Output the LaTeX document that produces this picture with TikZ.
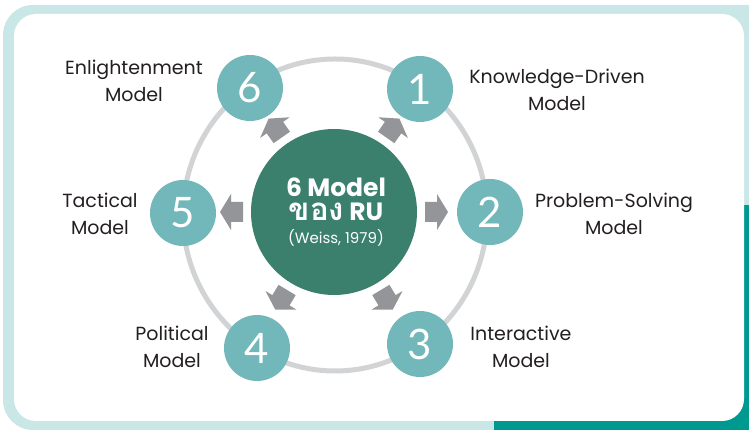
\documentclass[tikz,border=0pt]{standalone}
\usepackage{fontspec}
\setmainfont{Poppins}
\newfontfamily\thaifont[Script=Thai,Scale=1.25]{Loma}
\newfontfamily\numfont{Lato}
\definecolor{framelight}{HTML}{C9E7E6}
\definecolor{frameteal}{HTML}{00998F}
\definecolor{ringgray}{HTML}{D1D3D4}
\definecolor{circteal}{HTML}{72B7BA}
\definecolor{centgreen}{HTML}{3B806C}
\definecolor{arrowgray}{HTML}{939598}
\definecolor{textgray}{HTML}{231F20}
\begin{document}
\begin{tikzpicture}[x=1pt,y=1pt,
    numcircle/.style={circle,fill=circteal,minimum size=66pt,inner sep=0pt,
        text=white,font=\numfont\fontsize{42}{42}\selectfont},
    modeltext/.style={align=center,text=textgray,font=\fontsize{19}{27}\selectfont},
    centtext/.style={anchor=base,text=white,inner sep=0pt},
    garrow/.style={fill=arrowgray}]
\useasboundingbox (0,0) rectangle (749,430);
% frame
\fill[framelight,rounded corners=30pt] (3,0) rectangle (780,425);
\begin{scope}
\clip[rounded corners=30pt] (3,0) rectangle (780,425);
\fill[frameteal] (494,-10) rectangle (780,225);
\end{scope}
\fill[white,rounded corners=22pt] (14,9) rectangle (744,416);
% ring
\draw[ringgray,line width=5pt] (335,215) ellipse [x radius=152,y radius=156];
% centre
\node[circle,fill=centgreen,minimum size=166pt,inner sep=0pt] (m) at (334,218) {};
\node[centtext,font=\fontsize{25}{25}\selectfont\bfseries] (t1) at (336,233.5) {6 Model};
\node[centtext,font=\fontsize{25}{25}\selectfont\bfseries] (t2) at (336,209.5) {{\thaifont ของ} RU};
\node[centtext,font=\fontsize{15}{15}\selectfont] (t3) at (336,186) {(Weiss, 1979)};
% arrows
\begin{scope}[shift={(334,218)}]
\foreach \a in {0,55,125,180,239,301}
    \fill[garrow,shift={(\a:102)},rotate=\a] (-11,-10) -- (1,-10) -- (1,-18) -- (12,0)
        -- (1,18) -- (1,10) -- (-11,10) -- cycle;
\end{scope}
% models
\node[numcircle] (c1) at (420,341) {1};
\node[numcircle] (c2) at (490,218) {2};
\node[numcircle] (c3) at (420,86) {3};
\node[numcircle] (c4) at (257,82) {4};
\node[numcircle] (c5) at (183,217) {5};
\node[numcircle] (c6) at (250,342) {6};
\node[modeltext] (l1) at (557,340) {Knowledge-Driven\\Model};
\node[modeltext] (l2) at (614,216.5) {Problem-Solving\\Model};
\node[modeltext] (l3) at (521,83.5) {Interactive\\Model};
\node[modeltext] (l4) at (172,83.5) {Political\\Model};
\node[modeltext] (l5) at (100,216.5) {Tactical\\Model};
\node[modeltext] (l6) at (134,349.5) {Enlightenment\\Model};
\end{tikzpicture}
\end{document}
